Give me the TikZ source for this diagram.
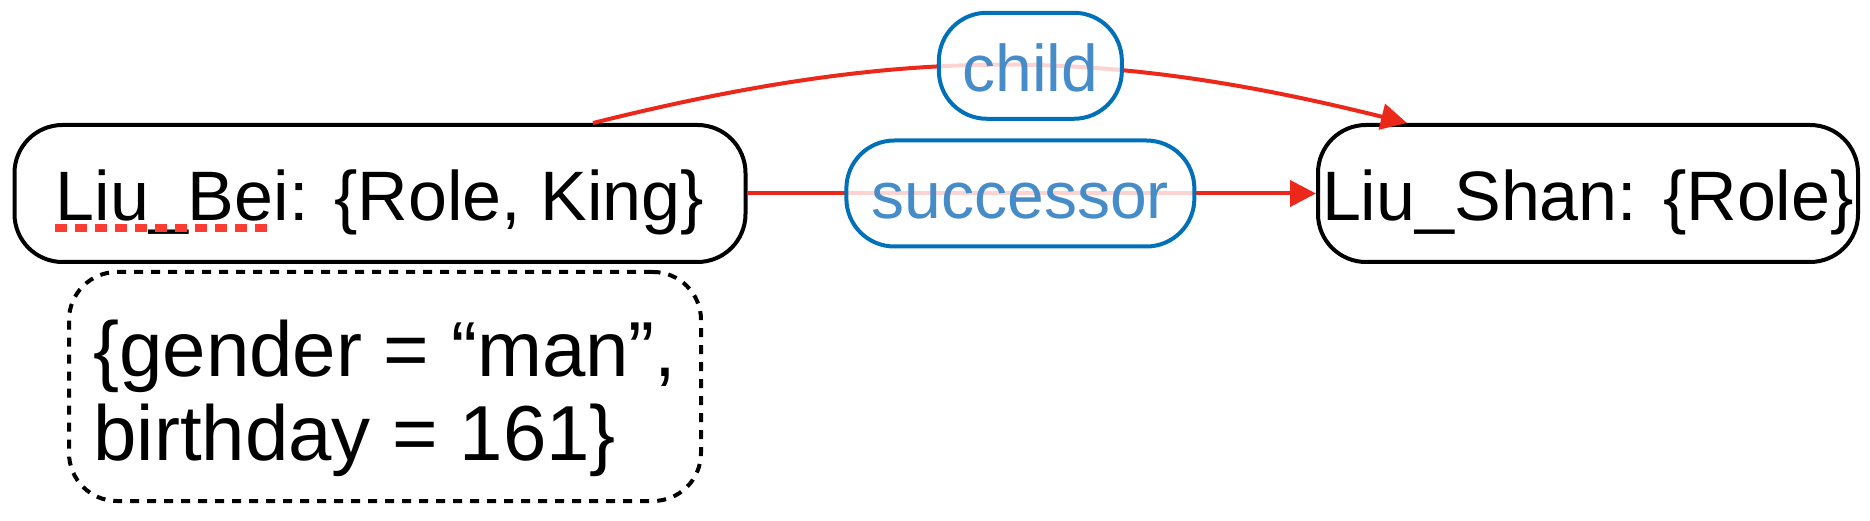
\documentclass[tikz,border=0pt]{standalone}
\usepackage{fontspec}
\setmainfont{Liberation Sans}
\usepackage{tikz}
\usetikzlibrary{arrows.meta,positioning}
\definecolor{relred}{RGB}{235,40,25}
\definecolor{lblblue}{RGB}{0,112,184}
\definecolor{lbltext}{RGB}{70,140,200}
\definecolor{markred}{RGB}{250,60,50}

\begin{document}
\begin{tikzpicture}[x=1pt,y=1pt,
  entity/.style={draw=black,line width=2pt,rounded corners=24pt,minimum height=68.5pt,
    inner sep=0pt,text height=27.2pt,text depth=0pt,font=\fontsize{35}{40}\selectfont},
  props/.style={draw=black,line width=2pt,dash pattern=on 4.5pt off 4pt,rounded corners=24pt,
    minimum width=316pt,minimum height=114.5pt,align=left,font=\fontsize{39}{42}\selectfont},
  rel/.style={draw=relred,line width=2pt,-{Triangle[length=13pt,width=13pt]}},
  lbl/.style={draw=lblblue,line width=2pt,fill=white,fill opacity=0.8,draw opacity=1,text opacity=1,
    text=lbltext,rounded corners=24pt,minimum height=53pt,inner sep=0pt,
    text height=25.5pt,text depth=0pt,font=\fontsize{33}{36}\selectfont}]
\useasboundingbox (0,0) rectangle (935,260);
%Knoten
\node[entity,minimum width=365.5pt] (bei) at (190,163.25) {Liu\_Bei: \{Role, King\}};
\node[entity,minimum width=270pt] (shan) at (794,163.25) {Liu\_Shan: \{Role\}};
\node[props] (prop) at (192.5,66.75) {\rule{0pt}{40pt}\{gender = “man”,\\birthday = 161\}};
%Kanten
\draw[rel] (bei.east) -- node[lbl,pos=0.48,minimum width=174pt] (succ) {successor} (shan.west);
\draw[rel] ([xshift=106.5pt]bei.north) to[bend left=14]
  node[lbl,pos=0.54,minimum width=91.5pt] (child) {child} ([xshift=-90.5pt]shan.north);
%Unterstreichung
\draw[markred,line width=4pt,dash pattern=on 6pt off 4pt]
  ([shift={(21.25pt,-17.25pt)}]bei.west) -- ([shift={(130.75pt,-17.25pt)}]bei.west);
\end{tikzpicture}
\end{document}
